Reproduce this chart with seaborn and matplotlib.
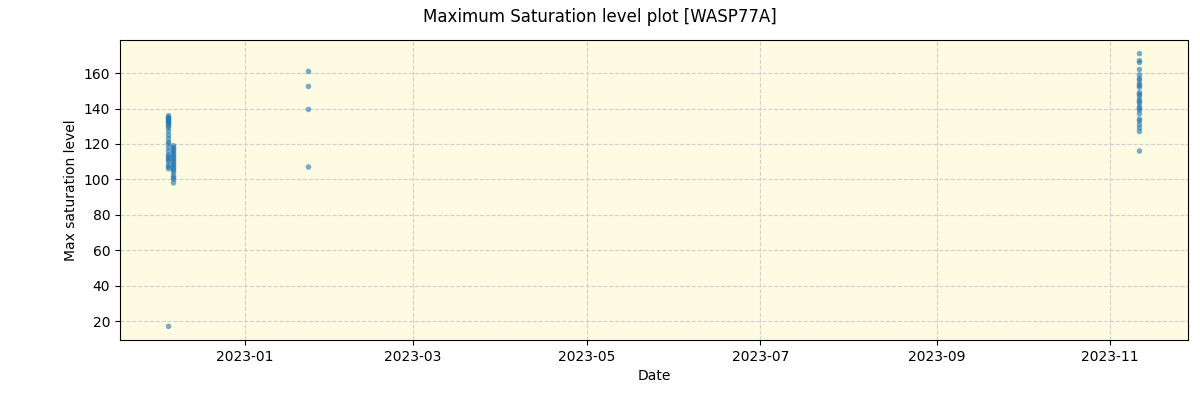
import matplotlib
matplotlib.use("Agg")
import matplotlib.pyplot as plt
import matplotlib.dates as mdates
import seaborn as sns
import pandas as pd

dates_a = ["2022-12-05 02:00"] * 26
vals_a = [136, 135, 134.5, 134, 133, 132.5, 132, 131, 130, 129, 127, 125, 123, 121, 120, 118, 116, 114, 113, 112, 111, 110, 108, 107, 106, 17]
dates_b = ["2022-12-06 20:00"] * 20
vals_b = [119, 118, 117, 116, 115, 114, 113, 112, 111, 110, 109, 108, 107, 106, 105, 104, 102, 101, 100, 98]
dates_c = ["2023-01-23 06:00"] * 4
vals_c = [161, 152.5, 139.5, 107]
dates_d = ["2023-11-11 06:00"] * 26
vals_d = [171, 167, 166, 162, 159, 157, 156, 154, 153, 152, 149, 148, 147, 145, 144, 143, 141, 140, 139, 137, 134, 133, 131, 129, 127, 116]

df = pd.DataFrame({
    "date": pd.to_datetime(dates_a + dates_b + dates_c + dates_d),
    "val": vals_a + vals_b + vals_c + vals_d,
})

fig, ax = plt.subplots(figsize=(12, 4), dpi=100)
sns.scatterplot(data=df, x="date", y="val", ax=ax, s=16, alpha=0.6, color="#1f77b4", edgecolor="none")
ax.set_facecolor("#fdfbe2")
ax.grid(True, linestyle="--", color="#d0d0d0", linewidth=0.8)
ax.set_axisbelow(True)
ax.set_xlabel("Date")
ax.set_ylabel("Max saturation level")
fig.suptitle("Maximum Saturation level plot [WASP77A]")
ax.xaxis.set_major_locator(mdates.MonthLocator(bymonth=[1, 3, 5, 7, 9, 11]))
ax.xaxis.set_major_formatter(mdates.DateFormatter("%Y-%m"))
fig.subplots_adjust(left=0.1, right=0.99, top=0.9, bottom=0.15)
fig.savefig("out.png")
